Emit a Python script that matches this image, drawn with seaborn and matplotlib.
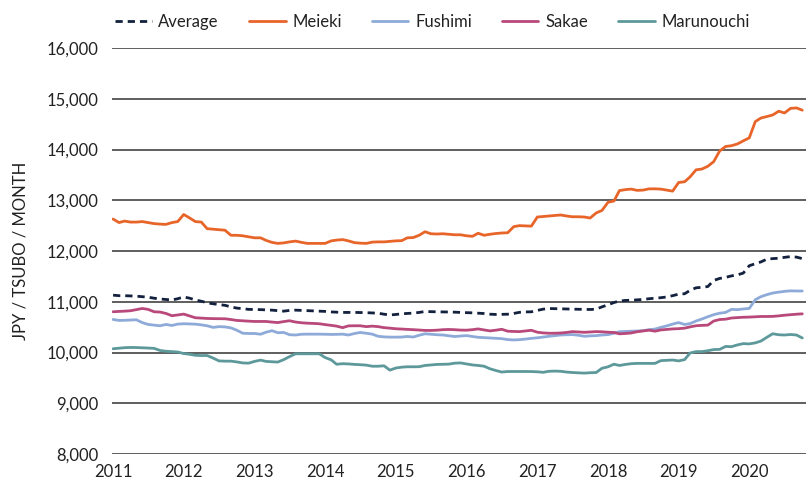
import matplotlib
matplotlib.use("Agg")
import matplotlib.pyplot as plt
import matplotlib.ticker as mticker
import matplotlib.dates as mdates
import numpy as np
import pandas as pd
import seaborn as sns

# monthly office rents, Nagoya, JPY per tsubo per month (Jan 2011 - Oct 2020)
months = pd.date_range("2011-01-01", periods=118, freq="MS")

average = [
    11130, 11120, 11120, 11115, 11110, 11100, 11090, 11070, 11055, 11045, 11035, 11060,
    11095, 11070, 11035, 11010, 10980, 10960, 10945, 10930, 10900, 10875, 10865, 10850,
    10848, 10845, 10840, 10835, 10825, 10815, 10830, 10835, 10830, 10825, 10820, 10815,
    10810, 10800, 10795, 10790, 10790, 10790, 10788, 10785, 10780, 10775, 10755, 10740,
    10750, 10762, 10770, 10776, 10790, 10808, 10805, 10802, 10800, 10798, 10795, 10790,
    10785, 10782, 10775, 10768, 10755, 10750, 10752, 10755, 10770, 10792, 10800, 10802,
    10830, 10855, 10867, 10864, 10861, 10858, 10855, 10852, 10850, 10848, 10854, 10900,
    10940, 10985, 11015, 11026, 11030, 11038, 11045, 11060, 11070, 11080, 11095, 11120,
    11150, 11158, 11225, 11275, 11285, 11300, 11420, 11460, 11480, 11510, 11530, 11565,
    11710, 11750, 11785, 11840, 11850, 11858, 11875, 11890, 11880, 11850,
]

meieki = [
    12630, 12560, 12590, 12570, 12570, 12580, 12560, 12540, 12530, 12525, 12560, 12580,
    12720, 12650, 12580, 12570, 12440, 12430, 12420, 12410, 12310, 12310, 12300, 12280,
    12260, 12260, 12210, 12170, 12150, 12160, 12180, 12195, 12170, 12150, 12150, 12150,
    12150, 12200, 12215, 12225, 12200, 12165, 12155, 12150, 12175, 12180, 12180, 12190,
    12200, 12205, 12260, 12265, 12310, 12380, 12340, 12335, 12340, 12330, 12320, 12320,
    12300, 12290, 12350, 12310, 12330, 12345, 12355, 12360, 12480, 12500, 12495, 12490,
    12670, 12680, 12690, 12700, 12710, 12690, 12675, 12675, 12670, 12650, 12750, 12800,
    12960, 12985, 13190, 13210, 13220, 13195, 13200, 13225, 13225, 13220, 13200, 13180,
    13350, 13365, 13460, 13600, 13615, 13670, 13760, 13970, 14060, 14075, 14110, 14170,
    14230, 14550, 14620, 14650, 14680, 14755, 14720, 14810, 14820, 14775,
]

fushimi = [
    10651, 10632, 10635, 10640, 10645, 10590, 10553, 10540, 10527, 10553, 10533, 10560,
    10567, 10563, 10559, 10545, 10527, 10495, 10510, 10505, 10485, 10440, 10380, 10375,
    10375, 10360, 10400, 10430, 10390, 10395, 10350, 10345, 10360, 10362, 10362, 10362,
    10360, 10356, 10358, 10362, 10345, 10375, 10395, 10380, 10362, 10320, 10308, 10303,
    10303, 10305, 10316, 10305, 10340, 10369, 10360, 10350, 10345, 10330, 10315, 10325,
    10333, 10315, 10300, 10293, 10287, 10280, 10273, 10255, 10248, 10253, 10265, 10279,
    10290, 10305, 10319, 10332, 10345, 10350, 10353, 10340, 10320, 10328, 10333, 10345,
    10353, 10380, 10410, 10415, 10420, 10424, 10430, 10450, 10462, 10495, 10525, 10560,
    10590, 10552, 10570, 10620, 10660, 10705, 10745, 10775, 10790, 10850, 10845, 10858,
    10869, 11040, 11100, 11140, 11172, 11190, 11205, 11215, 11212, 11212,
]

sakae = [
    10803, 10810, 10815, 10823, 10845, 10868, 10850, 10803, 10797, 10770, 10725, 10740,
    10757, 10720, 10685, 10678, 10671, 10668, 10666, 10665, 10650, 10632, 10625, 10618,
    10612, 10612, 10612, 10600, 10590, 10610, 10626, 10600, 10586, 10578, 10573, 10567,
    10550, 10535, 10520, 10490, 10525, 10527, 10527, 10510, 10520, 10510, 10490, 10480,
    10468, 10462, 10456, 10450, 10443, 10435, 10435, 10440, 10450, 10454, 10450, 10442,
    10440, 10450, 10465, 10445, 10426, 10440, 10458, 10420, 10415, 10412, 10425, 10438,
    10400, 10386, 10380, 10380, 10385, 10395, 10412, 10405, 10398, 10405, 10412, 10408,
    10400, 10395, 10368, 10375, 10385, 10410, 10425, 10440, 10420, 10445, 10455, 10465,
    10470, 10480, 10505, 10528, 10535, 10540, 10620, 10650, 10657, 10680, 10688, 10695,
    10698, 10704, 10710, 10710, 10712, 10722, 10735, 10745, 10755, 10762,
]

marunouchi = [
    10074, 10085, 10095, 10100, 10098, 10093, 10088, 10082, 10040, 10025, 10018, 10010,
    9980, 9965, 9945, 9940, 9941, 9890, 9835, 9830, 9830, 9815, 9795, 9790,
    9825, 9850, 9825, 9818, 9812, 9860, 9920, 9975, 9975, 9975, 9975, 9975,
    9900, 9855, 9768, 9780, 9775, 9766, 9760, 9752, 9730, 9730, 9738, 9653,
    9695, 9712, 9719, 9719, 9720, 9745, 9755, 9765, 9768, 9771, 9790, 9795,
    9775, 9755, 9745, 9730, 9680, 9645, 9615, 9626, 9626, 9626, 9626, 9625,
    9620, 9610, 9630, 9634, 9630, 9615, 9606, 9600, 9594, 9602, 9606, 9690,
    9718, 9770, 9745, 9765, 9780, 9786, 9786, 9786, 9786, 9840, 9846, 9852,
    9835, 9860, 9990, 10018, 10018, 10035, 10058, 10062, 10120, 10115, 10150, 10175,
    10170, 10190, 10225, 10300, 10370, 10350, 10345, 10355, 10345, 10287,
]

series_names = ["Average", "Meieki", "Fushimi", "Sakae", "Marunouchi"]
colors = {
    "Average": "#13213f",
    "Meieki": "#e8652a",
    "Fushimi": "#8eaad8",
    "Sakae": "#b8497a",
    "Marunouchi": "#5d999b",
}
dashes = {
    "Average": (2.6, 1.8),
    "Meieki": "",
    "Fushimi": "",
    "Sakae": "",
    "Marunouchi": "",
}

# long format table for seaborn
frames = []
for name, vals in zip(series_names, [average, meieki, fushimi, sakae, marunouchi]):
    frames.append(pd.DataFrame({"date": months, "rent": vals, "area": name}))
df = pd.concat(frames, ignore_index=True)

sns.set_style("white")
plt.rcParams["font.family"] = ["Lato", "DejaVu Sans"]

fig = plt.figure(figsize=(8.08, 4.83), dpi=100)
ax = fig.add_axes([0.139, 0.060, 0.8585, 0.8406])

sns.lineplot(data=df, x="date", y="rent", hue="area", style="area",
             hue_order=series_names, style_order=series_names,
             palette=colors, dashes=dashes, linewidth=2.0, ax=ax)

ax.set_ylim(8000, 16000)
ax.set_yticks(np.arange(8000, 16001, 1000))
ax.yaxis.set_major_formatter(mticker.StrMethodFormatter("{x:,.0f}"))
ax.set_xlim(pd.Timestamp("2010-12-28"), pd.Timestamp("2020-10-20"))
ax.xaxis.set_major_locator(mdates.YearLocator())
ax.xaxis.set_major_formatter(mdates.DateFormatter("%Y"))

ax.yaxis.grid(True, color="#333333", linewidth=1.1)
ax.xaxis.grid(False)
ax.set_axisbelow(True)
for s in ax.spines.values():
    s.set_visible(False)
ax.tick_params(axis="both", length=0, labelsize=12, colors="#222222")
ax.tick_params(axis="y", pad=10)
ax.tick_params(axis="x", pad=7)

ax.set_xlabel("")
ax.set_ylabel("JPY / TSUBO / MONTH", fontsize=12, color="#222222", labelpad=13)

handles, labels = ax.get_legend_handles_labels()
ax.get_legend().remove()
fig.legend(handles, labels, loc="center", bbox_to_anchor=(0.535, 0.955), ncol=5,
           frameon=False, fontsize=12, handlelength=2.2, handletextpad=0.4,
           columnspacing=1.8, labelcolor="#222222")

fig.savefig("out.png", dpi=100)
